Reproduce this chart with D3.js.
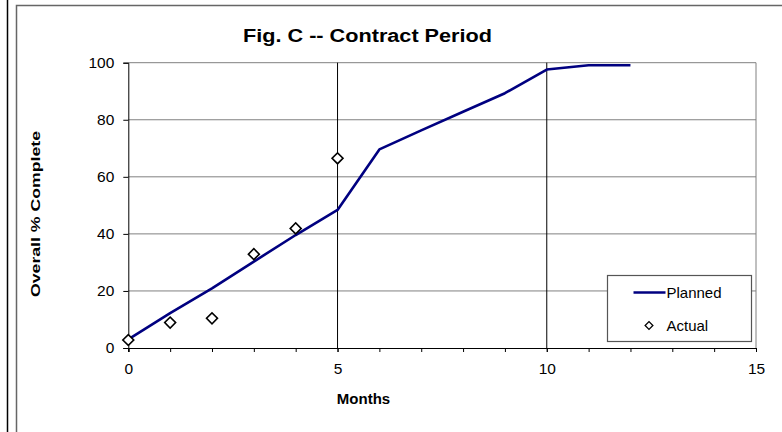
<!DOCTYPE html>
<html>
<head>
<meta charset="utf-8">
<script src="https://cdn.jsdelivr.net/npm/d3@7"></script>
<style>
  body { margin: 0; background: #fff; }
  svg text { font-family: Arial, "Liberation Sans", sans-serif; fill: #000; }
  .axis text { font-size: 15.5px; }
</style>
</head>
<body>
<div id="chart"></div>
<script>
// chart values
const months = [0, 1, 2, 3, 4, 5, 6, 7, 8, 9, 10, 11, 12];
const planned = [3, 12.2, 20.9, 30.3, 39.6, 48.4, 69.6, 76.3, 82.8, 89.3, 97.6, 99.1, 99.1];
const actualMonths = [0, 1, 2, 3, 4, 5];
const actual = [2.8, 8.9, 10.4, 32.9, 41.9, 66.5];
const yTicks = [0, 20, 40, 60, 80, 100];
const xMajorTicks = [0, 5, 10, 15];
const xMinorTicks = d3.range(0, 16);
const seriesNames = ["Planned", "Actual"];

const width = 782, height = 432;
const margin = { top: 62.7, right: 26, bottom: 84, left: 128.3 };

let svg = d3.select("#chart").append("svg")
    .attr("width", width)
    .attr("height", height);

// outer frames
svg.append("line")
    .attr("x1", 7.5).attr("x2", 7.5).attr("y1", 0).attr("y2", height)
    .attr("stroke", "#000").attr("stroke-width", 1.5);
svg.append("path")
    .attr("d", `M16.5,${height}V5.5H${width}`)
    .attr("fill", "none").attr("stroke", "#666").attr("stroke-width", 1.5);

let x = d3.scaleLinear()
    .domain([0, 15])
    .range([margin.left, width - margin.right]);

let y = d3.scaleLinear()
    .domain([0, 100])
    .range([height - margin.bottom, margin.top]);

// horizontal gridlines
svg.append("g")
    .selectAll("line")
    .data(yTicks.slice(1))
    .enter().append("line")
    .attr("x1", x(0)).attr("x2", x(15))
    .attr("y1", d => y(d)).attr("y2", d => y(d))
    .attr("stroke", "#808080").attr("stroke-width", 1);

// vertical gridlines
svg.append("g")
    .selectAll("line")
    .data(xMajorTicks.slice(1))
    .enter().append("line")
    .attr("x1", d => x(d)).attr("x2", d => x(d))
    .attr("y1", y(0)).attr("y2", y(100))
    .attr("stroke", d => d === 15 ? "#808080" : "#000").attr("stroke-width", 1);

// y axis
let yAxis = d3.axisLeft(y)
    .tickValues(yTicks)
    .tickSize(5)
    .tickPadding(9);

let gY = svg.append("g")
    .attr("class", "axis")
    .attr("transform", `translate(${x(0)},0)`)
    .call(yAxis)
    .attr("font-size", 15.5);

// x axis: minor ticks then labels
svg.append("g")
    .attr("transform", `translate(0,${y(0)})`)
    .call(d3.axisBottom(x).tickValues(xMinorTicks).tickSize(4).tickFormat(""));

let gX = svg.append("g")
    .attr("class", "axis")
    .attr("transform", `translate(0,${y(0)})`)
    .call(d3.axisBottom(x).tickValues(xMajorTicks).tickSize(4).tickPadding(11))
    .attr("font-size", 15.5);

svg.selectAll(".domain, .tick line").attr("stroke", "#000");

// planned line
let line = d3.line()
    .x((d, i) => x(months[i]))
    .y(d => y(d));

svg.append("path")
    .datum(planned)
    .attr("d", line)
    .attr("fill", "none")
    .attr("stroke", "#000080")
    .attr("stroke-width", 2.6)
    .attr("stroke-linejoin", "round");

// actual diamonds
let diamond = d3.symbol().type(d3.symbolSquare).size(60);
svg.append("g")
    .selectAll("path")
    .data(actual)
    .enter().append("path")
    .attr("d", diamond)
    .attr("transform", (d, i) => `translate(${x(actualMonths[i])},${y(d)}) rotate(45)`)
    .attr("fill", "#fff")
    .attr("stroke", "#000")
    .attr("stroke-width", 1.6);

// title and axis titles
svg.append("text")
    .attr("x", 367.5).attr("y", 42)
    .attr("text-anchor", "middle")
    .style("font-size", "18px").style("font-weight", "bold")
    .attr("textLength", 249).attr("lengthAdjust", "spacingAndGlyphs")
    .text("Fig. C -- Contract Period");

svg.append("text")
    .attr("x", 363.5).attr("y", 404)
    .attr("text-anchor", "middle")
    .style("font-size", "15px").style("font-weight", "bold")
    .text("Months");

svg.append("text")
    .attr("transform", "translate(40,214) rotate(-90)")
    .attr("text-anchor", "middle")
    .style("font-size", "13px").style("font-weight", "bold")
    .attr("textLength", 166).attr("lengthAdjust", "spacingAndGlyphs")
    .text("Overall % Complete");

// legend
let legend = svg.append("g").attr("transform", "translate(607.5,275.5)");
legend.append("rect")
    .attr("width", 144).attr("height", 66)
    .attr("fill", "#fff").attr("stroke", "#555").attr("stroke-width", 1.2);

legend.append("line")
    .attr("x1", 26).attr("x2", 58).attr("y1", 17).attr("y2", 17)
    .attr("stroke", "#000080").attr("stroke-width", 2.6);
legend.append("text")
    .attr("x", 59).attr("y", 22)
    .style("font-size", "15px")
    .text(seriesNames[0]);

legend.append("path")
    .attr("d", d3.symbol().type(d3.symbolSquare).size(30))
    .attr("transform", "translate(41.5,50) rotate(45)")
    .attr("fill", "#fff").attr("stroke", "#000").attr("stroke-width", 1.3);
legend.append("text")
    .attr("x", 59).attr("y", 55.5)
    .style("font-size", "15px")
    .text(seriesNames[1]);
</script>
</body>
</html>
